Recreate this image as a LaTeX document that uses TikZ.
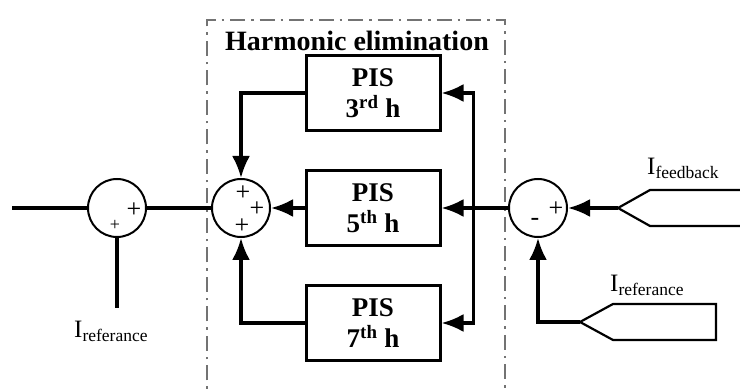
\documentclass[tikz,border=0pt]{standalone}
\usepackage{fontspec}
\setmainfont{Liberation Serif}
\usepackage{tikz}
\usetikzlibrary{arrows.meta,positioning}

\begin{document}
\begin{tikzpicture}[
    x=1pt, y=1pt,
    node distance=37pt and 30pt,
    sumnode/.style={draw, circle, line width=2pt, minimum size=58pt, inner sep=0pt},
    pisblock/.style={draw, line width=3pt, align=center, minimum width=134pt, minimum height=75pt, inner sep=0pt, font=\fontsize{27}{31}\selectfont\bfseries},
    sign/.style={inner sep=0pt, font=\fontsize{26}{26}\selectfont},
    wire/.style={line width=3.2pt},
    arrow/.style={wire, -{Latex[length=22pt, width=18pt]}},
    tag/.style={line width=2.2pt},
    inlabel/.style={inner sep=0pt, anchor=base west, font=\fontsize{25}{25}\selectfont},
    region/.style={draw=black!55, line width=2.6pt, dash pattern=on 15pt off 6pt on 2.5pt off 6pt}
  ]
    \useasboundingbox (0,0) rectangle (740,390);
    \clip (0,0) rectangle (740,390);

    \draw[region] (207,-20) rectangle (505,370);
    \node[font=\fontsize{28}{28}\selectfont\bfseries] (title) at (357,349) {Harmonic elimination};

    \node[sumnode] (c1) at (117,182) {};
    \node[sumnode] (c2) at (241,182) {};
    \node[sumnode] (c3) at (538,182) {};

    \node[pisblock] (p5) at (373,182) {PIS\\5\textsuperscript{th} h};
    \node[pisblock, above=of p5] (p3) {PIS\\3\textsuperscript{rd} h};
    \node[pisblock, below=of p5] (p7) {PIS\\7\textsuperscript{th} h};

    \node[sign, xshift=17pt, yshift=-2pt] (c1a) at (c1) {+};
    \node[sign, xshift=-2pt, yshift=-17pt, font=\fontsize{18}{18}\selectfont] (c1b) at (c1) {+};
    \node[sign, xshift=2pt, yshift=15pt] (c2a) at (c2) {+};
    \node[sign, xshift=16pt, yshift=-1pt] (c2b) at (c2) {+};
    \node[sign, xshift=1pt, yshift=-18pt] (c2c) at (c2) {+};
    \node[sign, xshift=18pt, yshift=-1pt] (c3a) at (c3) {+};
    \node[sign, xshift=-3pt, yshift=-14pt] (c3b) at (c3) {-};

    \coordinate (vin) at (12,182);
    \coordinate (refin) at (117,82);
    \coordinate (fbtip) at (618,182);
    \coordinate (reftip) at (580,68);
    \coordinate[right=32pt of p5.east] (bus);

    \draw[tag] (fbtip) -- ++(32,18) -- ++(130,0) (fbtip) -- ++(32,-18) -- ++(130,0);
    \draw[tag] (reftip) -- ++(33,18) -| (716,50) -- (613,50) -- cycle;

    \node[inlabel] (fblabel) at (647,215) {I\textsubscript{feedback}};
    \node[inlabel] (reflabel) at (610,98) {I\textsubscript{referance}};
    \node[inlabel] (outlabel) at (74,52) {I\textsubscript{referance}};

    \draw[wire] (vin) -- (c1.west);
    \draw[wire] (c1.south) -- (refin);
    \draw[wire] (c1.east) -- (c2.west);
    \draw[arrow] (fbtip) -- (c3.east);
    \draw[arrow] (reftip) -| (c3.south);
    \draw[arrow] (c3.west) -- (p5.east);
    \draw[arrow] (bus) |- (p3.east);
    \draw[arrow] (bus) |- (p7.east);
    \draw[arrow] (p3.west) -| (c2.north);
    \draw[arrow] (p5.west) -- (c2.east);
    \draw[arrow] (p7.west) -| (c2.south);
  \end{tikzpicture}
\end{document}
